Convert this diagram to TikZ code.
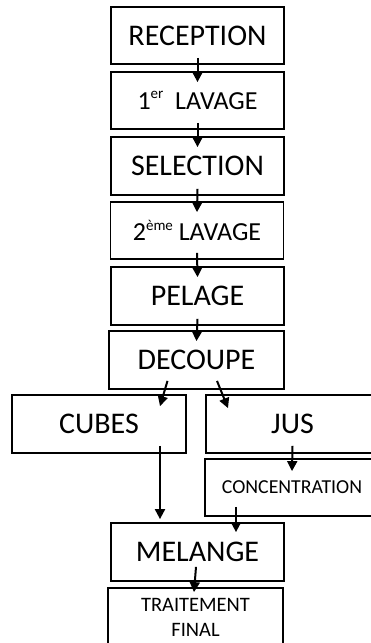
\documentclass[tikz,border=0pt]{standalone}
\usepackage{fontspec}
\setmainfont{Carlito}
\usetikzlibrary{arrows.meta}
\newcommand{\expo}[1]{\raisebox{0.85ex}{\fontsize{15}{15}\selectfont #1}}
\newcommand{\grand}{\fontsize{30}{32}\selectfont}
\tikzset{
	etape/.style={draw, line width=1.8pt, minimum width=173pt, minimum height=57pt, inner sep=0pt, align=center},
	fleche/.style={line width=2pt, -{Triangle[length=10pt,width=10pt]}}
}

\begin{document}
\begin{tikzpicture}[x=1pt, y=-1pt]
			\useasboundingbox (0,0) rectangle (370,643);
			\node[etape, font=\grand] (rec) at (197.5,35.5) {RECEPTION};
			\node[etape, font=\fontsize{26}{28}\selectfont] (lav1) at (197.5,100.5) {1\expo{er}\ \ LAVAGE};
			\node[etape, font=\grand, minimum height=58pt] (sel) at (197.5,166) {SELECTION};
			\node[etape, font=\fontsize{26}{28}\selectfont] (lav2) at (197,230.5) {2\expo{ème} LAVAGE};
			\node[etape, font=\grand, minimum height=58pt] (pel) at (197.5,296) {PELAGE};
			\node[etape, font=\grand, minimum width=175pt, minimum height=58pt] (dec) at (196.5,360) {DECOUPE};
			\node[etape, font=\grand, minimum width=174pt, minimum height=58pt] (cub) at (99,424) {CUBES};
			\node[etape, font=\grand, minimum height=58pt] (jus) at (292.5,424) {JUS};
			\node[etape, font=\fontsize{19.8}{21}\selectfont, minimum width=174pt] (conc) at (292,487.5) {CONCENTRATION};
			\node[etape, font=\fontsize{20.5}{25}\selectfont, minimum width=175pt, minimum height=58pt] (trait) at (195.5,617) {TRAITEMENT\\FINAL};
			\node[etape, font=\grand, minimum height=58pt] (mel) at (197.5,552) {MELANGE};
			\path[fleche]
			([yshift=7pt]rec.south) edge ([yshift=-11pt]lav1.north)
			([yshift=7pt]lav1.south) edge ([yshift=-11pt]sel.north)
			([yshift=7pt]sel.south) edge ([yshift=-11pt]lav2.north)
			([yshift=7pt]lav2.south) edge ([yshift=-11pt]pel.north)
			([yshift=7pt]pel.south) edge ([yshift=-11pt]dec.north)
			([shift={(-29pt,9pt)}]dec.south) edge ([shift={(61pt,-12pt)}]cub.north)
			([shift={(20.5pt,9pt)}]dec.south) edge ([shift={(-64.5pt,-14pt)}]jus.north)
			([shift={(61pt,8pt)}]cub.south) edge ([shift={(-37.5pt,3pt)}]mel.north)
			([yshift=8pt]jus.south) edge ([yshift=-13pt]conc.north)
			([shift={(-56pt,10pt)}]conc.south) edge ([shift={(38.5pt,-10pt)}]mel.north)
			([shift={(-1.5pt,15pt)}]mel.south) edge ([shift={(-1.5pt,-5pt)}]trait.north);
		\end{tikzpicture}
\end{document}
